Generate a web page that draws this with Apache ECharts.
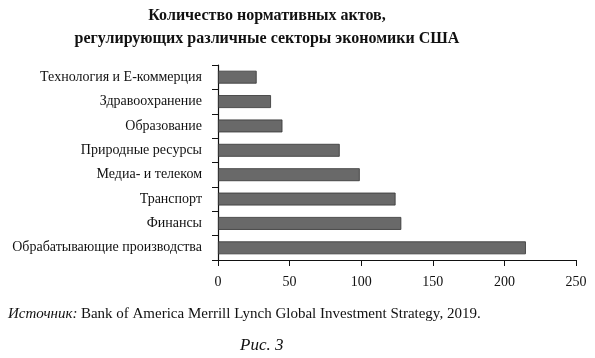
<!DOCTYPE html>
<html><head><meta charset="utf-8">
<script src="https://cdn.jsdelivr.net/npm/echarts@6/dist/echarts.min.js"></script>
<style>html,body{margin:0;padding:0;background:#fff}#c{width:595px;height:358px}</style>
</head><body><div id="c"></div>
<script>
const categories = ["Обрабатывающие производства","Финансы","Транспорт","Медиа- и телеком","Природные ресурсы","Образование","Здравоохранение","Технология и Е-коммерция"];
const values = [215, 128, 124, 99, 85, 45, 37, 27];
const xTicks = [0, 50, 100, 150, 200, 250];
const titleLines = ["Количество нормативных актов,", "регулирующих различные секторы экономики США"];
const sourceText = "Bank of America Merrill Lynch Global Investment Strategy, 2019.";
const figText = "Рис. 3";
const serif = "'Liberation Serif','DejaVu Serif',serif";
const chart = echarts.init(document.getElementById('c'));
chart.setOption({
  animation: false,
  textStyle: {fontFamily: serif},
  title: {text: titleLines.join('\n'), left: 262, textAlign: 'center', top: -1,
    textStyle: {fontFamily: serif, fontWeight: 'bold', fontSize: 16, color: '#111', lineHeight: 23}},
  grid: {left: 218, right: 19, top: 65, bottom: 98},
  xAxis: {type: 'value', min: xTicks[0], max: xTicks[xTicks.length-1], interval: 50,
    axisLine: {show: true, lineStyle: {color: '#111', width: 1.2}},
    axisTick: {show: true, length: 6, lineStyle: {color: '#111'}},
    axisLabel: {fontFamily: serif, fontSize: 14, color: '#111', margin: 15},
    splitLine: {show: false}},
  yAxis: {type: 'category', data: categories,
    axisLine: {show: true, lineStyle: {color: '#111', width: 1.2}},
    axisTick: {show: true, length: 6, lineStyle: {color: '#111'}},
    axisLabel: {fontFamily: serif, fontSize: 14, color: '#111', margin: 16}},
  series: [{type: 'bar', data: values, barCategoryGap: '47%',
    itemStyle: {color: '#696969', borderColor: '#333', borderWidth: 0.8}}],
  graphic: [
    {type: 'text', left: 8, top: 307, style: {rich: {i: {fontStyle: 'italic', fontFamily: serif, fontSize: 15, fill: '#111'}, n: {fontFamily: serif, fontSize: 15, fill: '#111'}},
      text: '{i|Источник:} {n|' + sourceText + '}'}},
    {type: 'text', left: 240, top: 337, style: {text: figText, fontFamily: serif, fontStyle: 'italic', fontSize: 17, fill: '#111'}}
  ]
});
</script></body></html>
